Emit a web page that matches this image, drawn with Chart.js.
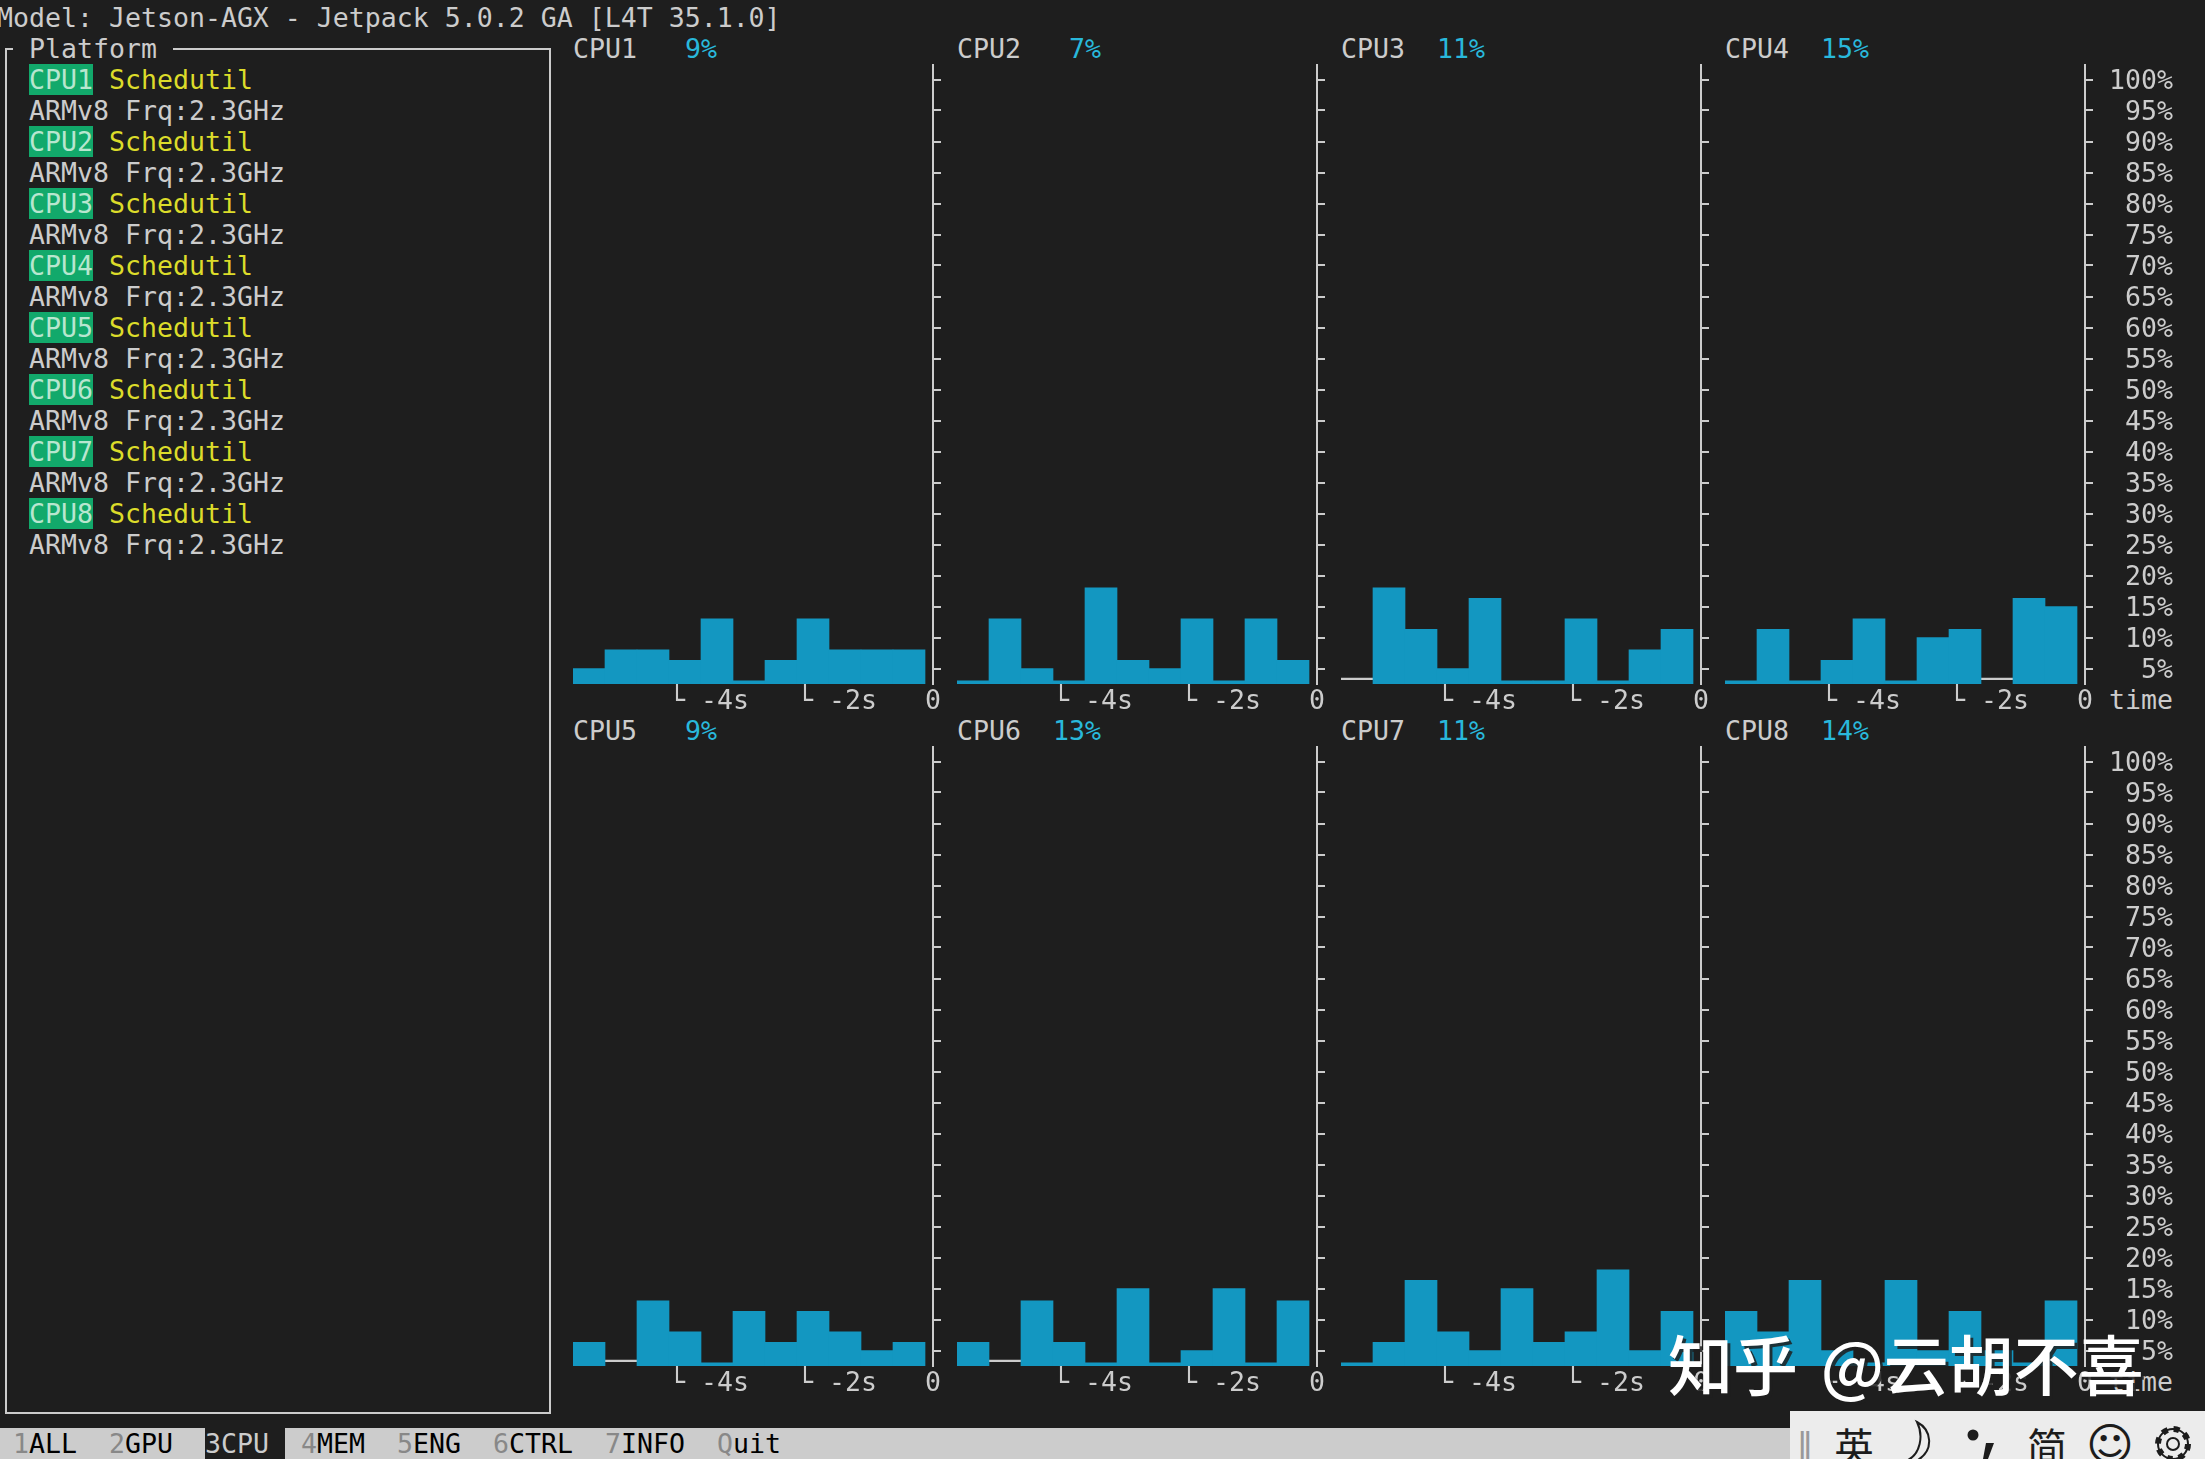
<!DOCTYPE html>
<html>
<head>
<meta charset="utf-8">
<title>jtop CPU</title>
<script src="https://cdn.jsdelivr.net/npm/chart.js@4/dist/chart.umd.min.js"></script>
<style>
  html, body { margin: 0; padding: 0; width: 2205px; height: 1459px; overflow: hidden; background: #1e1e1e; }
  .t { position: absolute; font: 26.57px/31px "DejaVu Sans Mono", monospace; color: #cccccc; white-space: pre; }
  canvas { position: absolute; }
  #box { position: absolute; left: 5px; top: 48px; width: 542px; height: 1362px; border: 2px solid #cccccc; }
  #gap { position: absolute; left: 13px; top: 46px; width: 160px; height: 6px; background: #1e1e1e; }
  #menu { position: absolute; left: 0; top: 1428px; width: 2205px; height: 31px; background: #cccccc; }
  #ime { position: absolute; left: 1790px; top: 1411px; width: 415px; height: 48px; background: #ececec; overflow: hidden; }
  #ime span { position: absolute; color: #1c1c1c; line-height: 44px; white-space: pre; transform: translateX(-50%); }
  #ime svg { position: absolute; left: 0; top: 0; }
  #mark { position: absolute; left: 1668px; top: 1319px; font: 500 65px/86px "Noto Sans CJK SC", sans-serif; color: #fff; white-space: pre; word-spacing: 8px; text-shadow: 3px 3px 0 rgba(30,30,30,.85); }
</style>
</head>
<body>
<div id="box"></div>
<div id="gap"></div>
<div id="menu"></div>
<div id="ime">
  <svg width="415" height="48" fill="none" stroke="#1c1c1c" stroke-width="2">
    <path d="M127 14 C142 22 144 42 128 52 L118 52 C130 46 134 28 127 14 Z" transform="translate(0,-3)"/>
    <circle cx="183" cy="24" r="5.5" fill="#1c1c1c" stroke="none"/>
    <path d="M196 32 L204 32 L198 48 L193 48 Z" fill="#1c1c1c" stroke="none"/>
    <circle cx="383" cy="33" r="15" stroke-width="6" stroke-dasharray="5.9 5.9"/>
    <circle cx="383" cy="33" r="15" stroke-width="2"/>
    <circle cx="383" cy="33" r="6"/>
  </svg>
</div>
<script>
const modelLine = "Model: Jetson-AGX - Jetpack 5.0.2 GA [L4T 35.1.0]";
const cpuNames = ["CPU1", "CPU2", "CPU3", "CPU4", "CPU5", "CPU6", "CPU7", "CPU8"];
const cpuPercent = ["9%", "7%", "11%", "15%", "9%", "13%", "11%", "14%"];

// seconds before now, one bar per half second
const barTimes = [-5.375, -4.875, -4.375, -3.875, -3.375, -2.875, -2.375, -1.875, -1.375, -0.875, -0.375];

// 0 = nothing but the thin line
const cpu1 = [5, 8, 8, 6.3, 13, 3, 6.3, 13, 8, 8, 8];
const cpu2 = [3, 13, 5, 3, 18, 6.3, 5, 13, 3, 13, 6.3];
const cpu3 = [0, 18, 11.3, 5, 16.3, 3, 3, 13, 3, 8, 11.3];
const cpu4 = [3, 11.3, 3, 6.3, 13, 3, 10, 11.3, 0, 16.3, 15];
const cpu5 = [6.3, 0, 13, 8, 3, 11.3, 6.3, 11.3, 8, 5, 6.3];
const cpu6 = [6.3, 0, 13, 6.3, 3, 15, 3, 5, 15, 3, 13];
const cpu7 = [3, 6.3, 16.3, 8, 5, 15, 6.3, 8, 18, 5, 11.3];
const cpu8 = [11.3, 8, 16.3, 5, 3, 16.3, 5, 11.3, 5, 3, 13];
const cpuValues = [cpu1, cpu2, cpu3, cpu4, cpu5, cpu6, cpu7, cpu8];

const xTickValues = [-4, -2, 0];
const xTickLabels = ["└ -4s", "└ -2s", "0"];
const yTickValues = [5, 10, 15, 20, 25, 30, 35, 40, 45, 50, 55, 60, 65, 70, 75, 80, 85, 90, 95, 100];

const menuItems = [["1", "ALL", 1], ["2", "GPU", 7], ["3", "CPU", 13], ["4", "MEM", 19], ["5", "ENG", 25], ["6", "CTRL", 31], ["7", "INFO", 38], ["Q", "uit", 45]];

const fg = "#cccccc";
const bg = "#1e1e1e";
const barBlue = "#1397c1";
const cw = 16, rh = 31;
const colX = c => -3 + cw * c;
const rowY = r => 2 + rh * r;
const monoFont = { family: '"DejaVu Sans Mono", monospace', size: 26.57 };

function put(text, col, row, color, extra) {
  const el = document.createElement("div");
  el.className = "t";
  el.textContent = text;
  el.style.left = colX(col) + "px";
  el.style.top = rowY(row) + "px";
  if (color) el.style.color = color;
  if (extra) Object.assign(el.style, extra);
  document.body.appendChild(el);
  return el;
}

put(modelLine, 0, 0);
put("Platform", 2, 1);

cpuNames.forEach((name, i) => {
  put(name, 2, 2 + i * 2, "#b8e6cf", { background: "#12a96b", height: "31px" });
  put("Schedutil", 7, 2 + i * 2, "#dcdc2a");
  put("ARMv8 Frq:2.3GHz", 2, 3 + i * 2);
});

// bottom menu
menuItems.forEach(([key, rest, col]) => {
  const on = key === "3";
  if (on) put("     ", col, 46, null, { background: bg, height: "31px" });
  put(key, col, 46, on ? fg : "#888888");
  put(rest, col + 1, 46, on ? fg : "#000000");
});

function drawPanel(i) {
  const col = i % 4, line = Math.floor(i / 4);
  const values = cpuValues[i];
  const last = col === 3;
  const left = 573 + col * 384;
  const top = line === 0 ? 64 : 746;
  const axisWidth = last ? 88 : 20;

  const titleRow = line === 0 ? 1 : 23;
  const col0 = 36 + col * 24;
  put(cpuNames[i], col0, titleRow);
  put(cpuPercent[i], col0 + 9 - cpuPercent[i].length, titleRow, "#29b8db");
  if (last) put("time", 132, line === 0 ? 22 : 44);

  const canvas = document.createElement("canvas");
  canvas.width = 360 + axisWidth;
  canvas.height = 651;
  canvas.style.left = left + "px";
  canvas.style.top = top + "px";
  document.body.appendChild(canvas);

  new Chart(canvas, {
    type: "bar",
    data: {
      datasets: [
        {
          data: barTimes.map((t, k) => ({ x: t, y: values[k] === 0 ? null : values[k] })),
          backgroundColor: barBlue,
          base: 2.5,
          grouped: false,
          barPercentage: 1,
          categoryPercentage: 1,
        },
        {
          data: barTimes.map((t, k) => ({ x: t, y: values[k] === 0 ? [3.2, 3.45] : null })),
          backgroundColor: fg,
          grouped: false,
          barPercentage: 1,
          categoryPercentage: 1,
        },
      ],
    },
    options: {
      responsive: false,
      animation: false,
      devicePixelRatio: 1,
      layout: { padding: 0 },
      plugins: { legend: { display: false }, tooltip: { enabled: false }, title: { display: false } },
      scales: {
        x: {
          type: "linear",
          offset: false,
          min: -5.625,
          max: 0,
          border: { display: false },
          grid: { display: false },
          afterBuildTicks: s => { s.ticks = xTickValues.map(value => ({ value })); },
          afterFit: s => { s.height = 31; s.paddingLeft = 0; s.paddingRight = 0; },
          ticks: {
            autoSkip: false,
            maxRotation: 0,
            minRotation: 0,
            align: "start",
            labelOffset: -8,
            padding: -6,
            color: fg,
            font: monoFont,
            callback: v => xTickLabels[xTickValues.indexOf(v)],
          },
        },
        y: {
          position: "right",
          min: 2.5,
          max: 102.5,
          border: { display: true, color: fg, width: 2 },
          grid: { drawOnChartArea: false, drawTicks: true, tickLength: 8, color: fg, lineWidth: 2 },
          afterBuildTicks: s => { s.ticks = yTickValues.map(value => ({ value })); },
          afterFit: s => { s.width = axisWidth; s.paddingTop = 0; s.paddingBottom = 0; },
          ticks: {
            display: last,
            autoSkip: false,
            crossAlign: "far",
            padding: 16,
            labelOffset: 2.5,
            color: fg,
            font: monoFont,
            callback: v => v + "%",
          },
        },
      },
    },
  });
}
cpuNames.forEach((_, i) => drawPanel(i));

// watermark and input method bar sit above the screen capture
const mark = document.createElement("div");
mark.id = "mark";
mark.textContent = "知乎 @云胡不喜";
document.body.appendChild(mark);

const ime = document.getElementById("ime");
[["‖", 15, '34px "DejaVu Sans"', "#999999"], ["英", 64, '40px "Noto Sans CJK SC"'],
 ["简", 257, '40px "Noto Sans CJK SC"'], ["☺", 320, '46px "DejaVu Sans"']]
  .forEach(([s, x, font, color]) => {
    const el = document.createElement("span");
    el.textContent = s;
    el.style.left = x + "px";
    el.style.top = "12px";
    el.style.font = font;
    el.style.lineHeight = "44px";
    if (color) el.style.color = color;
    ime.appendChild(el);
  });
</script>
</body>
</html>
